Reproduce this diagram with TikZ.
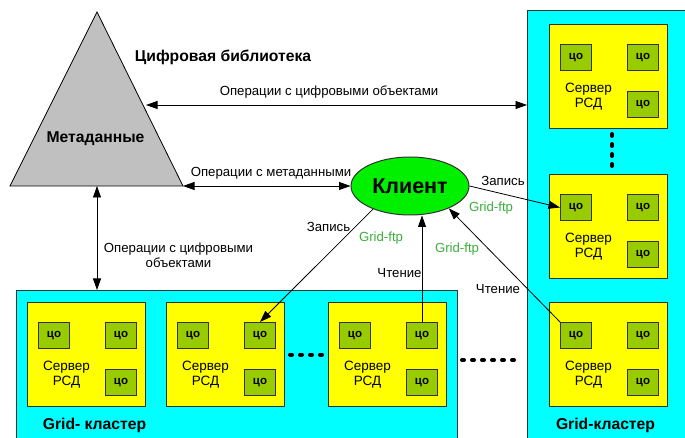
\documentclass[tikz,border=0pt]{standalone}
\usepackage{fontspec}
\setmainfont{Liberation Sans}
\usetikzlibrary{arrows.meta,shapes.geometric,calc}
\definecolor{clcyan}{RGB}{0,255,255}
\definecolor{srvyellow}{RGB}{255,255,0}
\definecolor{cogreen}{RGB}{153,204,0}
\definecolor{cligreen}{RGB}{0,240,0}
\definecolor{trigray}{RGB}{192,192,192}
\definecolor{ftpgreen}{RGB}{60,175,60}
\definecolor{edge}{RGB}{50,50,50}
\tikzset{
  cluster/.style={draw=edge, fill=clcyan, line width=0.8pt, anchor=north west, inner sep=0pt},
  srv/.style={draw=edge, fill=srvyellow, line width=1pt, minimum width=118pt, minimum height=104pt, anchor=north west, inner sep=0pt},
  co/.style={draw=edge, fill=cogreen, line width=1pt, minimum width=31pt, minimum height=26pt, anchor=north west, inner sep=0pt, font=\bfseries\fontsize{11.5}{11.5}\selectfont},
  srvlbl/.style={align=center, font=\fontsize{13.5}{15}\selectfont, inner sep=0pt},
  lbl/.style={font=\fontsize{13.2}{15}\selectfont, inner sep=0pt},
  ftp/.style={font=\fontsize{13.2}{15}\selectfont, text=ftpgreen, inner sep=0pt},
  title/.style={font=\bfseries\fontsize{15.7}{16}\selectfont, inner sep=0pt},
  conn/.style={-{Triangle[length=11.5pt,width=8pt]}, line width=0.8pt},
  dconn/.style={{Triangle[length=11.5pt,width=8pt]}-{Triangle[length=11.5pt,width=8pt]}, line width=0.8pt},
  dotline/.style={line width=4pt, line cap=round, dash pattern=on 2pt off 8pt}
}
\newcommand{\rsdsrv}[3]{%
  \node[srv] (#1) at (#2,#3) {};
  \node[co] (#1a) at ({#2+11},{#3+20}) {цо};
  \node[co] (#1b) at ({#2+78},{#3+20}) {цо};
  \node[co] (#1c) at ({#2+78},{#3+67}) {цо};
  \node[srvlbl] (#1t) at ({#2+39.5},{#3+72.5}) {Сервер\\РСД};
}
\begin{document}
\begin{tikzpicture}[x=1pt,y=-1pt]
\clip (0,0) rectangle (685,438);
\fill[white] (0,0) rectangle (685,438);
% clusters
\node[cluster, minimum width=441pt, minimum height=160pt] (cl1) at (16,290) {};
\node[cluster, minimum width=170pt, minimum height=440pt] (cl2) at (527,10) {};
% servers
\rsdsrv{s1}{27}{302}
\rsdsrv{s2}{166}{302}
\rsdsrv{s3}{328}{302}
\rsdsrv{s4}{549}{24}
\rsdsrv{s5}{549}{174}
\rsdsrv{s6}{549}{302}
\node[title] (g1) at (94.5,425) {Grid- кластер};
\node[title] (g2) at (605.5,425) {Grid-кластер};
% triangle
\coordinate (apex) at (97,12);
\coordinate (bl) at (10,186);
\coordinate (br) at (183,186);
\coordinate (triR) at (146,105);
\coordinate (tribase) at (97,186);
\draw[fill=trigray, line width=0.8pt] (apex) -- (br) -- (bl) -- cycle;
\node[title] (meta) at (95.5,139) {Метаданные};
\node[title] (dl) at (223,57) {Цифровая библиотека};
% client
\node[ellipse, draw=edge, fill=cligreen, line width=1pt, minimum width=118pt, minimum height=58pt, inner sep=0pt, font=\bfseries\fontsize{21.5}{22}\selectfont] (client) at (410,186) {Клиент};
% connectors
\draw[dconn] (triR) -- (triR -| cl2.west);
\draw[dconn] (br) -- (client.west);
\draw[dconn] (tribase) -- (tribase |- cl1.north);
\draw[conn] (client.east) -- (s5a.west);
\draw[conn] (client.212) -- (s2b.north);
\draw[conn] (s3b.north) -- (s3b.north |- client.south);
\draw[conn] (s6a.north west) -- (client.330);
% labels
\node[lbl] (l1) at (329,92) {Операции с цифровыми объектами};
\node[lbl] (l2) at (271,173) {Операции с метаданными};
\node[lbl, align=center] (l3) at (178.5,255.5) {Операции с цифровыми\\объектами};
\node[lbl] (w1) at (503,181) {Запись};
\node[ftp] (f1) at (491,208) {Grid-ftp};
\node[lbl] (w2) at (328.5,227) {Запись};
\node[ftp] (f2) at (381,238) {Grid-ftp};
\node[ftp] (f3) at (457,249) {Grid-ftp};
\node[lbl] (r1) at (399.5,273) {Чтение};
\node[lbl] (r2) at (498,289) {Чтение};
% dotted continuations
\draw[dotline] ([xshift=5pt]s2.east) -- ([xshift=-3pt]s3.west);
\coordinate (da) at (462,360);
\coordinate (db) at (518,360);
\draw[dotline] (da) -- (db);
\coordinate (dc) at (612,134);
\coordinate (dd) at (612,168);
\draw[dotline] (dc) -- (dd);
\end{tikzpicture}
\end{document}
